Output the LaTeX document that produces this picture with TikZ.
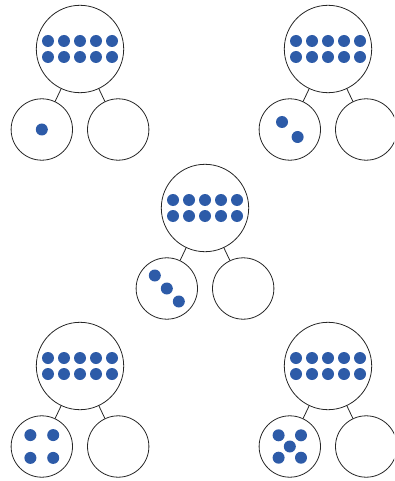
\documentclass[tikz,border=0pt]{standalone}
\usetikzlibrary{calc,positioning}
\definecolor{dotblue}{RGB}{45,91,168}

\begin{document}
\begin{tikzpicture}[x=1pt,y=-1pt,
  whole/.style={circle,draw=black!85,line width=0.8pt,minimum size=87.4pt,inner sep=0pt},
  part/.style={circle,draw=black!85,line width=0.8pt,minimum size=61.4pt,inner sep=0pt},
  link/.style={draw=black!85,line width=0.8pt},
  counter/.style={fill=dotblue}]

% Define parameters
\def\dx{38.2}
\def\dy{80.5}
\def\gap{16}
\def\dotr{6pt}

\useasboundingbox (0,0) rectangle (394,481);
\clip (0,0) rectangle (394,481);

% ===== TOP LEFT: 10 = 1 + ? =====
\node[whole] (wholeA) at (80,49) {};
\node[part] (leftA) at ($(wholeA)+(-\dx,\dy)$) {};
\node[part] (rightA) at ($(wholeA)+(\dx,\dy)$) {};
\draw[link] (wholeA) -- (leftA);
\draw[link] (wholeA) -- (rightA);
\foreach \i in {-2,...,2}
  \foreach \j in {-0.5,0.5}
    \fill[counter] ($(wholeA)+(\i*\gap,\j*\gap)$) circle (\dotr);
\fill[counter] (leftA) circle (\dotr);

% ===== TOP RIGHT: 10 = 2 + ? =====
\node[whole] (wholeB) at (328,49) {};
\node[part] (leftB) at ($(wholeB)+(-\dx,\dy)$) {};
\node[part] (rightB) at ($(wholeB)+(\dx,\dy)$) {};
\draw[link] (wholeB) -- (leftB);
\draw[link] (wholeB) -- (rightB);
\foreach \i in {-2,...,2}
  \foreach \j in {-0.5,0.5}
    \fill[counter] ($(wholeB)+(\i*\gap,\j*\gap)$) circle (\dotr);
\fill[counter] ($(leftB)+(-7.8,-7.5)$) circle (\dotr);
\fill[counter] ($(leftB)+(7.8,7.5)$) circle (\dotr);

% ===== MIDDLE: 10 = 3 + ? =====
\node[whole] (wholeC) at (205,208) {};
\node[part] (leftC) at ($(wholeC)+(-\dx,\dy)$) {};
\node[part] (rightC) at ($(wholeC)+(\dx,\dy)$) {};
\draw[link] (wholeC) -- (leftC);
\draw[link] (wholeC) -- (rightC);
\foreach \i in {-2,...,2}
  \foreach \j in {-0.5,0.5}
    \fill[counter] ($(wholeC)+(\i*\gap,\j*\gap)$) circle (\dotr);
\foreach \k in {-1,0,1}
  \fill[counter] ($(leftC)+(\k*12,\k*13)$) circle (\dotr);

% ===== BOTTOM LEFT: 10 = 4 + ? =====
\node[whole] (wholeD) at (80,366) {};
\node[part] (leftD) at ($(wholeD)+(-\dx,\dy)$) {};
\node[part] (rightD) at ($(wholeD)+(\dx,\dy)$) {};
\draw[link] (wholeD) -- (leftD);
\draw[link] (wholeD) -- (rightD);
\foreach \i in {-2,...,2}
  \foreach \j in {-0.5,0.5}
    \fill[counter] ($(wholeD)+(\i*\gap,\j*\gap)$) circle (\dotr);
\foreach \i in {-1,1}
  \foreach \j in {-1,1}
    \fill[counter] ($(leftD)+(\i*11.4,\j*11.4)$) circle (\dotr);

% ===== BOTTOM RIGHT: 10 = 5 + ? =====
\node[whole] (wholeE) at (328,366) {};
\node[part] (leftE) at ($(wholeE)+(-\dx,\dy)$) {};
\node[part] (rightE) at ($(wholeE)+(\dx,\dy)$) {};
\draw[link] (wholeE) -- (leftE);
\draw[link] (wholeE) -- (rightE);
\foreach \i in {-2,...,2}
  \foreach \j in {-0.5,0.5}
    \fill[counter] ($(wholeE)+(\i*\gap,\j*\gap)$) circle (\dotr);
\foreach \i in {-1,1}
  \foreach \j in {-1,1}
    \fill[counter] ($(leftE)+(\i*11.2,\j*11.2)$) circle (\dotr);
\fill[counter] (leftE) circle (\dotr);

\end{tikzpicture}
\end{document}
